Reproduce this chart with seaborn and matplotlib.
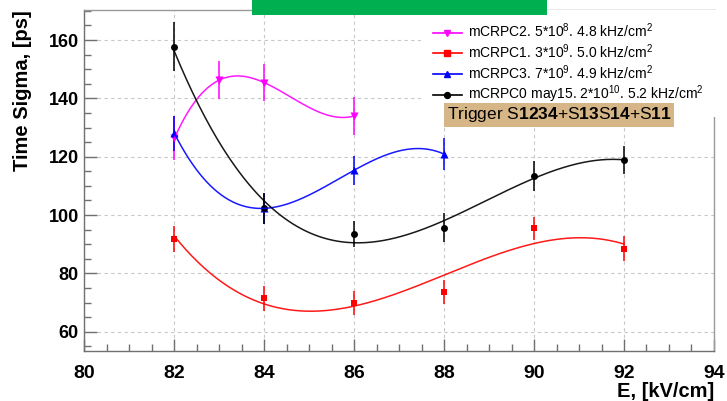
import numpy as np
import pandas as pd
import seaborn as sns
import matplotlib
matplotlib.use("Agg")
import matplotlib.pyplot as plt
from matplotlib.lines import Line2D
from matplotlib.patches import Rectangle
from matplotlib.ticker import MultipleLocator

# --- measurements: field E [kV/cm], time sigma [ps], error [ps] ---
e_c2 = [82, 83, 84, 86]
s_c2 = [126.3, 146.3, 145.4, 134.0]
d_c2 = [7.5, 6.5, 6.4, 6.6]

e_c1 = [82, 84, 86, 88, 90, 92]
s_c1 = [91.8, 71.4, 69.9, 73.7, 95.4, 88.5]
d_c1 = [4.5, 4.3, 4.0, 4.1, 4.1, 4.2]

e_c3 = [82, 84, 86, 88]
s_c3 = [128.0, 102.3, 115.4, 120.9]
d_c3 = [6.0, 5.2, 5.0, 5.6]

e_c0 = [82, 84, 86, 88, 90, 92]
s_c0 = [157.7, 102.3, 93.4, 95.7, 113.4, 118.9]
d_c0 = [8.4, 5.2, 4.5, 4.9, 5.2, 4.9]

labels = [
    r"mCRPC2. 5*10$^{8}$. 4.8 kHz/cm$^{2}$",
    r"mCRPC1. 3*10$^{9}$. 5.0 kHz/cm$^{2}$",
    r"mCRPC3. 7*10$^{9}$. 4.9 kHz/cm$^{2}$",
    r"mCRPC0 may15. 2*10$^{10}$. 5.2 kHz/cm$^{2}$",
]
colors = ["#ff00ff", "#ff0000", "#0000ff", "#000000"]
markers = ["v", "s", "^", "o"]
msizes = [5.8, 4.8, 5.8, 5.0]

trigger_text = r"Trigger S$\mathbf{1234}$+S$\mathbf{13}$S$\mathbf{14}$+S$\mathbf{11}$"

plt.rcParams["font.family"] = ["Liberation Sans", "DejaVu Sans"]
plt.rcParams["mathtext.fontset"] = "custom"
plt.rcParams["mathtext.rm"] = "Liberation Sans"
plt.rcParams["mathtext.it"] = "Liberation Sans:italic"
plt.rcParams["mathtext.bf"] = "Liberation Sans:bold"

series = [
    (e_c2, s_c2, d_c2),
    (e_c1, s_c1, d_c1),
    (e_c3, s_c3, d_c3),
    (e_c0, s_c0, d_c0),
]

fig = plt.figure(figsize=(7.27, 4.01), dpi=100)
ax = fig.add_axes([0.1162, 0.1247, 0.8658, 0.8503])

# dashed grid at the major ticks
ax.set_xlim(80, 94)
ax.set_ylim(53.4, 170.3)
ax.xaxis.set_major_locator(MultipleLocator(2))
ax.xaxis.set_minor_locator(MultipleLocator(0.5))
ax.yaxis.set_major_locator(MultipleLocator(20))
ax.yaxis.set_minor_locator(MultipleLocator(5))
ax.grid(True, which="major", color="#c8c8c8", linestyle=(0, (3, 3)), linewidth=0.8)
ax.set_axisbelow(True)

for (ex, sy, dy), col, mk, ms, lab in zip(series, colors, markers, msizes, labels):
    df = pd.DataFrame({"E": ex, "sigma": sy, "err": dy})
    ax.errorbar(df["E"], df["sigma"], yerr=df["err"], fmt="none",
                ecolor=col, elinewidth=1.1, capsize=0, zorder=3)
    sns.scatterplot(data=df, x="E", y="sigma", ax=ax, marker=mk, s=ms ** 2,
                    color=col, edgecolor=col, linewidth=0, zorder=4, legend=False)
    # third-order polynomial fit, weighted by the errors
    coef = np.polyfit(df["E"], df["sigma"], 3, w=1.0 / df["err"])
    xf = np.linspace(min(ex), max(ex), 300)
    fit = pd.DataFrame({"E": xf, "sigma": np.polyval(coef, xf)})
    sns.lineplot(data=fit, x="E", y="sigma", ax=ax, color=col, linewidth=1.1,
                 alpha=0.9, zorder=5, legend=False)

# axis styling
for side in ["top", "right"]:
    ax.spines[side].set_color("#9a9a9a")
for side in ["left", "bottom"]:
    ax.spines[side].set_color("#707070")
for sp in ax.spines.values():
    sp.set_linewidth(1.0)
ax.tick_params(which="both", direction="in", color="#707070", top=False, right=False)
ax.tick_params(which="major", length=9, width=1.0)
ax.tick_params(which="minor", length=5, width=1.0)
ax.tick_params(axis="x", which="major", pad=10, labelsize=14)
ax.tick_params(axis="y", which="major", pad=4, labelsize=13)
for t in ax.get_xticklabels() + ax.get_yticklabels():
    t.set_fontweight("bold")

ax.set_xlabel("E, [kV/cm]", fontsize=14.5, fontweight="bold", loc="right")
ax.xaxis.set_label_coords(1.0, -0.092)
ax.set_ylabel("Time Sigma, [ps]", fontsize=14.5, fontweight="bold", loc="top")
ax.yaxis.set_label_coords(-0.083, 1.0)

# legend
handles = [Line2D([0], [0], color=c, marker=m, markersize=ms * 0.85, linewidth=1.2)
           for c, m, ms in zip(colors, markers, msizes)]
leg = ax.legend(handles, labels, loc="upper left", bbox_to_anchor=(0.5346, 1.0),
                frameon=True, fancybox=False, facecolor="white", edgecolor="none",
                framealpha=1.0, fontsize=10, borderaxespad=0, borderpad=0.85,
                handlelength=2.1, handletextpad=0.45, labelspacing=0.15)
leg.set_zorder(6)

ax.text(0.5759, 0.693, trigger_text, transform=ax.transAxes, fontsize=12.5,
        ha="left", va="center", zorder=7,
        bbox=dict(boxstyle="square,pad=0.15", fc="#d6b687", ec="none"))

# green banner at the top edge
fig.add_artist(Rectangle((252 / 727, 1 - 14.7 / 401), (547.3 - 252) / 727, 14.7 / 401,
                         transform=fig.transFigure, facecolor="#00b050",
                         edgecolor="none", zorder=10))

fig.savefig("out.png", dpi=100)
